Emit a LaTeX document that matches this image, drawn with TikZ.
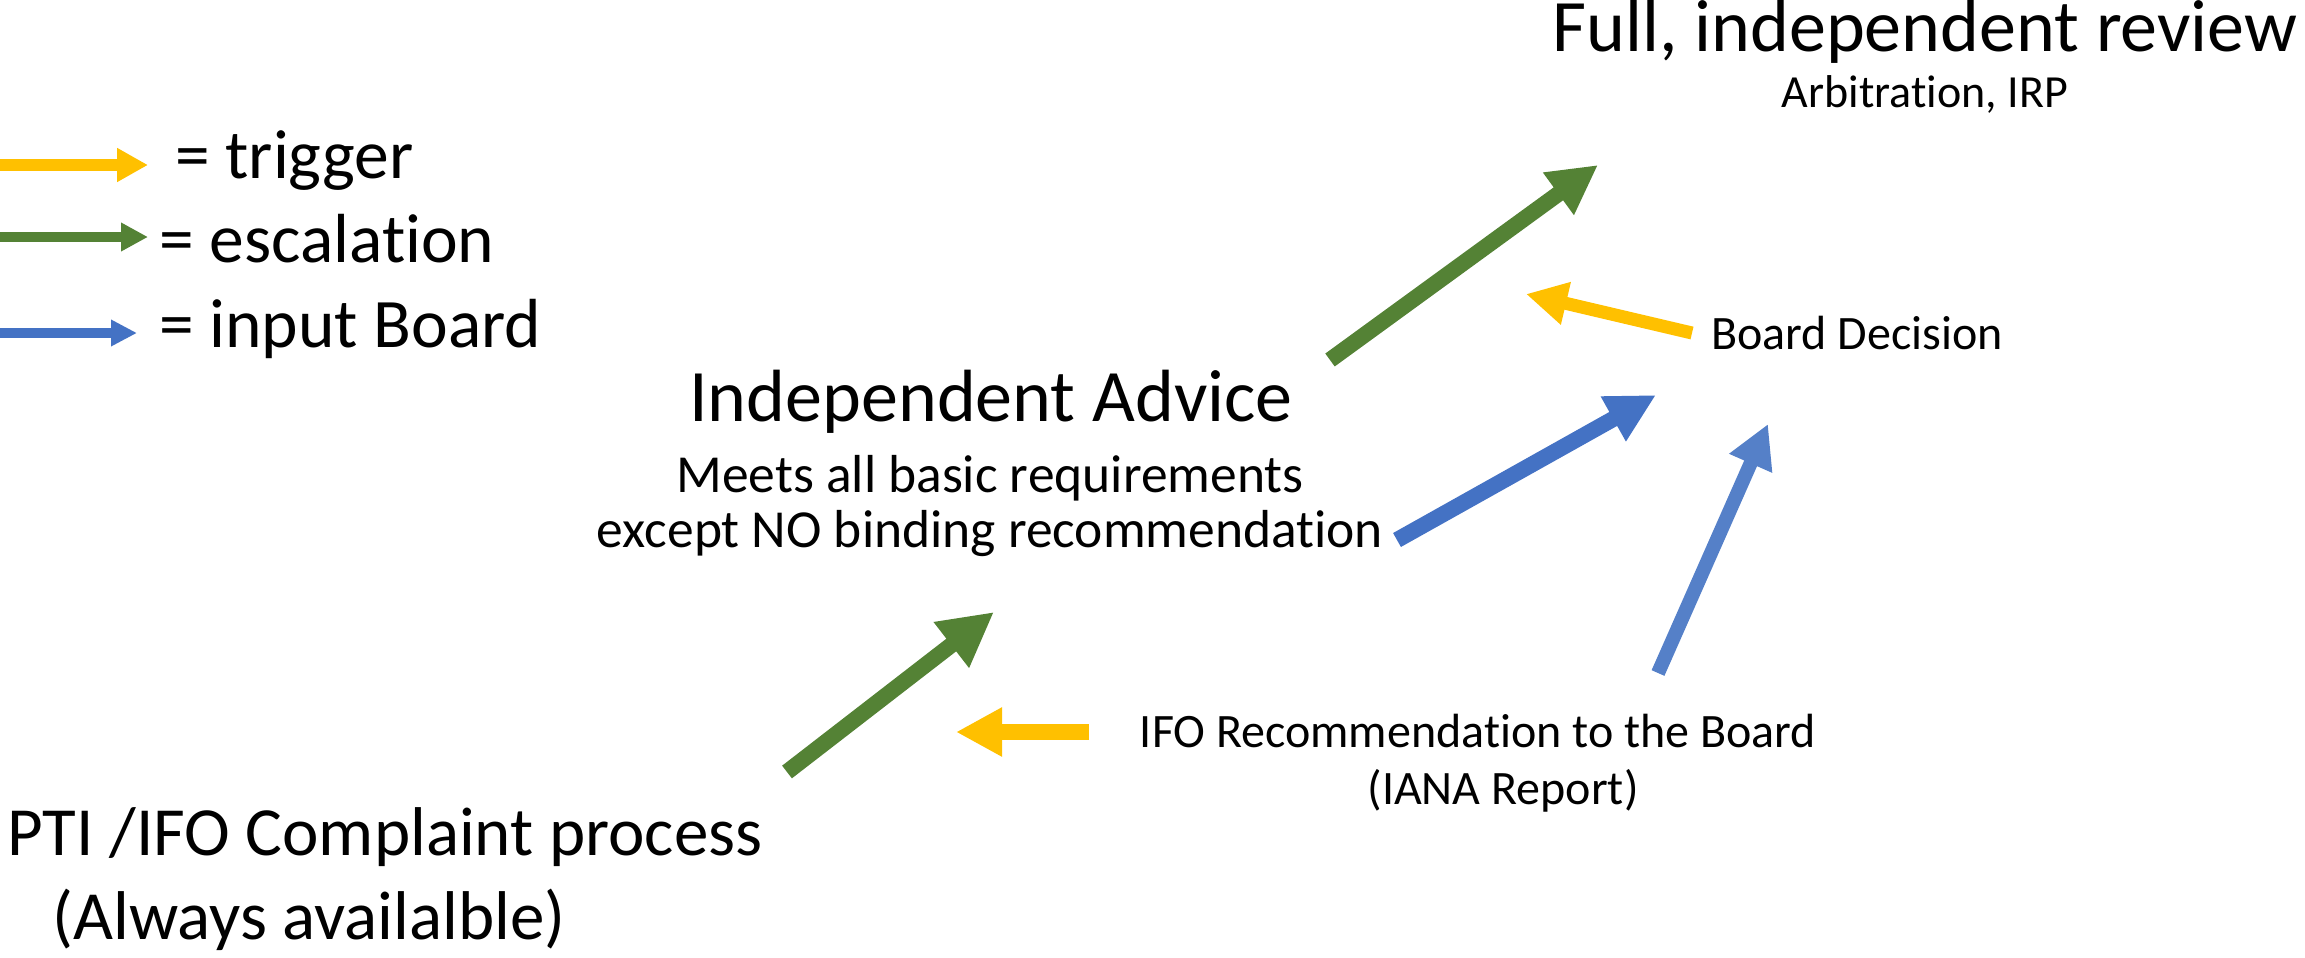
\documentclass[tikz,border=0pt]{standalone}
\usepackage{fontspec}
\setmainfont[Ligatures={NoCommon,NoContextual,NoRare},Contextuals=NoAlternate,RawFeature=-ccmp,RawFeature=-rlig]{Carlito}
\usetikzlibrary{arrows.meta}

\definecolor{trig}{HTML}{FFC000}
\definecolor{esc}{HTML}{548235}
\definecolor{inp}{HTML}{4472C4}
\definecolor{inpl}{HTML}{5580C8}

\newcommand{\fsz}[1]{\fontsize{#1}{#1}\selectfont}

\begin{document}
\begin{tikzpicture}[x=1pt,y=-1pt,
  lbl/.style={inner sep=0pt,anchor=base},
  huge/.style={lbl,font=\fsz{74}},
  large/.style={lbl,font=\fsz{69}},
  mid/.style={lbl,font=\fsz{53.5}},
  small/.style={lbl,font=\fsz{48}},
  legend/.style={lbl,anchor=base west,font=\fsz{69.5}},
  fat/.style={line width=#1}]

\useasboundingbox (0,0) rectangle (2305,958);

  % legend
  \coordinate (ly0) at (0,165);
  \coordinate (ly1) at (148,165);
  \coordinate (lg0) at (0,237);
  \coordinate (lg1) at (148,237);
  \coordinate (lb0) at (0,333);
  \coordinate (lb1) at (137,333);

  \node[legend] (ltrig) at (175,178) {= trigger};
  \node[legend] (lesc) at (159,262) {= escalation};
  \node[legend] (linp) at (159,347) {= input Board};

  \draw[trig,fat=12,-{Triangle[length=31pt,width=32pt]}] (ly0) -- (ly1);
  \draw[esc,fat=10,-{Triangle[length=27pt,width=27pt]}] (lg0) -- (lg1);
  \draw[inp,fat=10,-{Triangle[length=26pt,width=25pt]}] (lb0) -- (lb1);

  % texts
  \node[huge] (full) at (1925,52) {Full, independent review};
  \node[lbl,font=\fsz{46}] (arb) at (1925,107) {Arbitration, IRP};

  \node[huge] (adv) at (991,421) {Independent Advice};
  \node[mid] (adva) at (990,492) {Meets all basic requirements};
  \node[mid] (advb) at (990,547) {except NO binding recommendation};

  \node[small] (dec) at (1857,349) {Board Decision};

  \node[small] (ifoa) at (1478,747) {IFO Recommendation to the Board};
  \node[small] (ifob) at (1503,804) {(IANA Report)};

  \node[large] (ptia) at (385,855) {PTI /IFO Complaint process};
  \node[large] (ptib) at (309,939) {(Always availalble)};

  % arrow ends
  \coordinate (e1) at (787,772);
  \coordinate (e2) at (994,612);
  \coordinate (e3) at (1330,360);
  \coordinate (e4) at (1598,165);
  \coordinate (t1) at (1089,732);
  \coordinate (t2) at (956,732);
  \coordinate (t3) at (1692,333);
  \coordinate (t4) at (1526,294);
  \coordinate (i1) at (1397,540);
  \coordinate (i2) at (1656,395);
  \coordinate (i3) at (1658,673);
  \coordinate (i4) at (1768,424);

  \draw[esc,fat=16,-{Triangle[length=54pt,width=54pt]}] (e1) -- (e2);
  \draw[esc,fat=16,-{Triangle[length=49pt,width=49pt]}] (e3) -- (e4);
  \draw[trig,fat=16,-{Triangle[length=46pt,width=46pt]}] (t1) -- (t2);
  \draw[trig,fat=13,-{Triangle[length=41pt,width=41pt]}] (t3) -- (t4);
  \draw[inp,fat=16,-{Triangle[length=49pt,width=48pt]}] (i1) -- (i2);
  \draw[inpl,fat=14,-{Triangle[length=43pt,width=44pt]}] (i3) -- (i4);

\end{tikzpicture}
\end{document}
